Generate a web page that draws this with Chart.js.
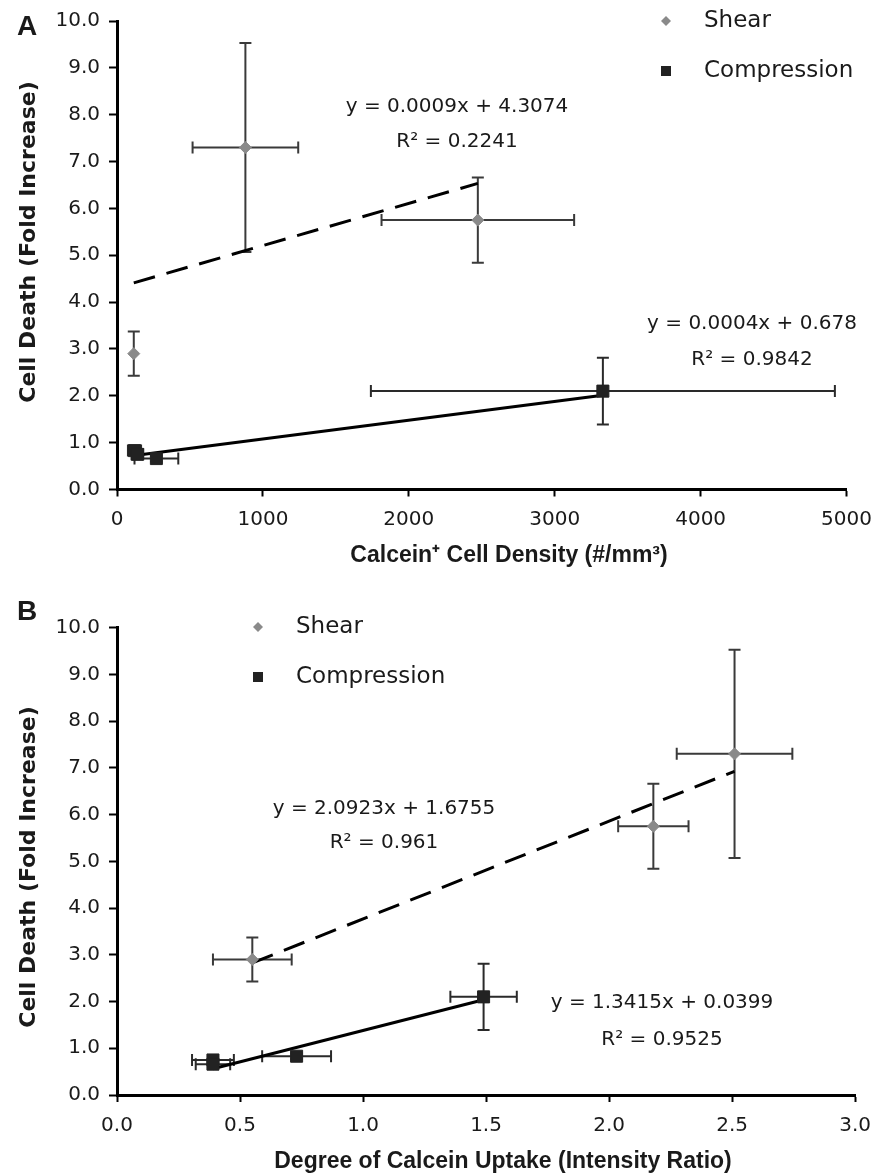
<!DOCTYPE html>
<html lang="en">
<head>
<meta charset="UTF-8" />
<title>Cell death vs calcein</title>
<script src="https://cdn.jsdelivr.net/npm/chart.js"></script>
<style>
  body { margin: 0; background: #fff; }
  canvas { display: block; }
</style>
</head>
<body>
<canvas id="chartA" width="883" height="580"></canvas>
<canvas id="chartB" width="883" height="595"></canvas>
<script>
// cell death (fold increase), shared by both panels
const shearDeath = [2.9, 7.3, 5.75];
const shearDeathErr = [0.47, 2.23, 0.91];
const compDeath = [0.83, 0.75, 0.66, 2.1];
const compDeathErr = [0.06, 0.08, 0.06, 0.71];

// panel A: calcein+ cell density (#/mm3)
const shearDensity = [115, 880, 2473];
const shearDensityErr = [0, 362, 660];
const compDensity = [120, 140, 270, 3330];
const compDensityErr = [45, 40, 150, 1590];

// panel B: calcein uptake (intensity ratio)
const shearUptake = [0.55, 2.51, 2.18];
const shearUptakeErr = [0.16, 0.235, 0.143];
const compUptake = [0.73, 0.39, 0.39, 1.49];
const compUptakeErr = [0.14, 0.085, 0.07, 0.135];

// trendlines [slope, intercept]
const shearFitA = [0.0009, 4.3074];
const compFitA = [0.0004, 0.678];
const shearFitB = [2.0923, 1.6755];
const compFitB = [1.3415, 0.0399];

const xTicksA = [0, 1000, 2000, 3000, 4000, 5000];
const xTicksB = [0, 0.5, 1.0, 1.5, 2.0, 2.5, 3.0];

const pts = (xs, ys) => xs.map((x, i) => ({ x: x, y: ys[i] }));
const fitLine = (xs, fit) => {
  const lo = Math.min(...xs), hi = Math.max(...xs);
  return [{ x: lo, y: fit[0] * lo + fit[1] }, { x: hi, y: fit[0] * hi + fit[1] }];
};

const errorBars = {
  id: 'errorBars',
  beforeDatasetsDraw(chart) {
    const ctx = chart.ctx, sx = chart.scales.x, sy = chart.scales.y;
    chart.data.datasets.forEach(ds => {
      if (!ds.xErr) return;
      ctx.save();
      ctx.strokeStyle = ds.errColor;
      ctx.lineWidth = 2;
      ds.data.forEach((p, i) => {
        const px = sx.getPixelForValue(p.x), py = sy.getPixelForValue(p.y);
        ctx.beginPath();
        if (ds.xErr[i] > 0) {
          const x0 = sx.getPixelForValue(p.x - ds.xErr[i]), x1 = sx.getPixelForValue(p.x + ds.xErr[i]);
          ctx.moveTo(x0, py); ctx.lineTo(x1, py);
          ctx.moveTo(x0, py - 6); ctx.lineTo(x0, py + 6);
          ctx.moveTo(x1, py - 6); ctx.lineTo(x1, py + 6);
        }
        if (ds.yErr[i] > 0) {
          const y0 = sy.getPixelForValue(p.y - ds.yErr[i]), y1 = sy.getPixelForValue(p.y + ds.yErr[i]);
          ctx.moveTo(px, y0); ctx.lineTo(px, y1);
          ctx.moveTo(px - 6, y0); ctx.lineTo(px + 6, y0);
          ctx.moveTo(px - 6, y1); ctx.lineTo(px + 6, y1);
        }
        ctx.stroke();
      });
      ctx.restore();
    });
  }
};

function text(ctx, s, x, y, font, align, rot) {
  ctx.save();
  ctx.font = font;
  ctx.fillStyle = '#1a1a1a';
  ctx.textAlign = align || 'center';
  ctx.textBaseline = 'middle';
  ctx.translate(x, y);
  if (rot) ctx.rotate(rot);
  ctx.fillText(s, 0, 0);
  ctx.restore();
}

function labelsPlugin(t) {
  return {
    id: 'labels',
    afterDraw(chart) {
      const ctx = chart.ctx;
      text(ctx, t.panel, 27, t.panelY, 'bold 28px "Liberation Sans"');
      text(ctx, 'Cell Death (Fold Increase)', 29, t.yTitleY, 'bold 22px "DejaVu Sans"', 'center', -Math.PI / 2);
      text(ctx, t.xTitle, t.xTitleX, t.xTitleY, 'bold 23px "Liberation Sans"');
      t.eqs.forEach(e => text(ctx, e[0], e[1], e[2], '20px "DejaVu Sans"'));
      // legend
      ctx.save();
      ctx.fillStyle = '#8a8a8a';
      const lx = t.legX, ly = t.legY;
      ctx.beginPath();
      ctx.moveTo(lx, ly - 5); ctx.lineTo(lx + 5, ly); ctx.lineTo(lx, ly + 5); ctx.lineTo(lx - 5, ly);
      ctx.fill();
      ctx.fillStyle = '#222';
      ctx.fillRect(lx - 5, ly + 50 - 5, 10, 10);
      ctx.restore();
      text(ctx, 'Shear', lx + 38, ly, '23px "DejaVu Sans"', 'left');
      text(ctx, 'Compression', lx + 38, ly + 50, '23px "DejaVu Sans"', 'left');
    }
  };
}

function makeChart(id, o) {
  return new Chart(document.getElementById(id), {
    type: 'scatter',
    data: {
      datasets: [
        { data: o.shearPts, xErr: o.shearXErr, yErr: shearDeathErr, errColor: '#3a3a3a',
          pointStyle: 'rectRot', pointRadius: 6, backgroundColor: '#8a8a8a', borderColor: '#8a8a8a', order: 1 },
        { data: o.compPts, xErr: o.compXErr, yErr: compDeathErr, errColor: '#2a2a2a',
          pointStyle: 'rect', pointRadius: 8.5, backgroundColor: '#222', borderColor: '#222', order: 1 },
        { type: 'line', data: o.shearFit, borderColor: '#000', borderWidth: 3, borderDash: [22, 12],
          pointRadius: 0, fill: false, order: 2 },
        { type: 'line', data: o.compFit, borderColor: '#000', borderWidth: 3,
          pointRadius: 0, fill: false, order: 2 }
      ]
    },
    options: {
      responsive: false,
      animation: false,
      events: [],
      layout: { padding: o.pad },
      plugins: { legend: { display: false }, tooltip: { enabled: false } },
      scales: {
        x: {
          type: 'linear', min: 0, max: o.xMax,
          afterBuildTicks: s => { s.ticks = o.xTicks.map(v => ({ value: v })); },
          afterFit: s => { s.height = o.xHeight; },
          grid: { drawOnChartArea: false, drawTicks: true, tickLength: 7, tickWidth: 2, tickColor: '#000' },
          border: { display: true, color: '#000', width: 3 },
          ticks: { autoSkip: false, maxRotation: 0, padding: o.xPad, color: '#1a1a1a',
                   font: { family: 'DejaVu Sans', size: 20 }, callback: o.xFmt }
        },
        y: {
          type: 'linear', min: 0, max: 10,
          ticks: { stepSize: 1, padding: 9, color: '#1a1a1a', font: { family: 'DejaVu Sans', size: 20 },
                   callback: v => v.toFixed(1) },
          afterFit: s => { s.width = 117; },
          grid: { drawOnChartArea: false, drawTicks: true, tickLength: 8, tickWidth: 2, tickColor: '#000' },
          border: { display: true, color: '#000', width: 3 }
        }
      }
    },
    plugins: [errorBars, labelsPlugin(o.text)]
  });
}

makeChart('chartA', {
  shearPts: pts(shearDensity, shearDeath), shearXErr: shearDensityErr,
  compPts: pts(compDensity, compDeath), compXErr: compDensityErr,
  shearFit: fitLine(shearDensity, shearFitA), compFit: fitLine(compDensity, compFitA),
  xMax: 5000, xTicks: xTicksA, xFmt: v => String(v), xHeight: 90.5, xPad: 11,
  pad: { left: 0, right: 27.5, top: 21, bottom: 0 },
  text: {
    panel: 'A', panelY: 27, yTitleY: 242,
    xTitle: 'Calcein\u207A Cell Density (#/mm\u00B3)', xTitleX: 509, xTitleY: 556,
    legX: 666, legY: 21,
    eqs: [['y = 0.0009x + 4.3074', 457, 107], ['R\u00B2 = 0.2241', 457, 142],
          ['y = 0.0004x + 0.678', 752, 324], ['R\u00B2 = 0.9842', 752, 360]]
  }
});

makeChart('chartB', {
  shearPts: pts(shearUptake, shearDeath), shearXErr: shearUptakeErr,
  compPts: pts(compUptake, compDeath), compXErr: compUptakeErr,
  shearFit: fitLine(shearUptake, shearFitB), compFit: fitLine(compUptake, compFitB),
  xMax: 3, xTicks: xTicksB, xFmt: v => v.toFixed(1), xHeight: 80, xPad: 12,
  pad: { left: 0, right: 24, top: 47.7, bottom: 0 },
  text: {
    panel: 'B', panelY: 32, yTitleY: 287,
    xTitle: 'Degree of Calcein Uptake (Intensity Ratio)', xTitleX: 503, xTitleY: 582,
    legX: 258, legY: 47,
    eqs: [['y = 2.0923x + 1.6755', 384, 229], ['R\u00B2 = 0.961', 384, 263],
          ['y = 1.3415x + 0.0399', 662, 423], ['R\u00B2 = 0.9525', 662, 460]]
  }
});
</script>
</body>
</html>
